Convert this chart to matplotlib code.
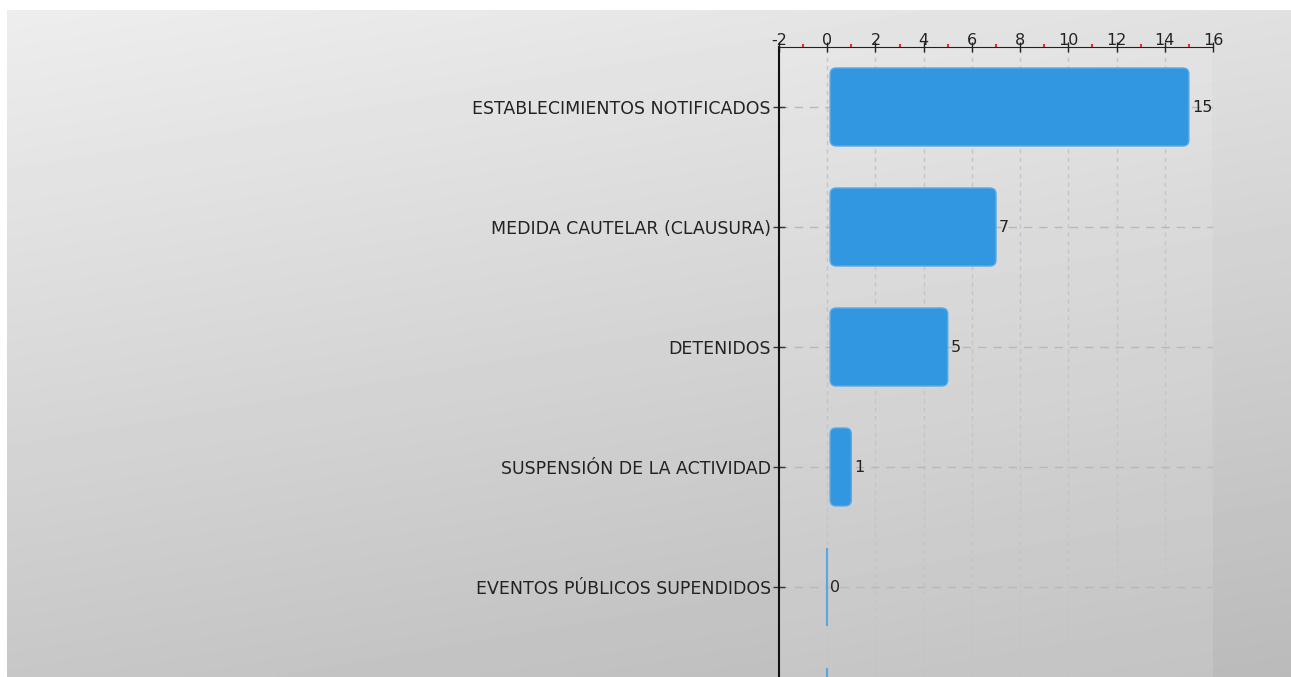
import matplotlib.pyplot as plt
import numpy as np
from matplotlib.patches import FancyBboxPatch
from matplotlib.ticker import MultipleLocator

plt.rcParams['axes.unicode_minus'] = False

# --- data ---
categories = ["ESTABLECIMIENTOS NOTIFICADOS",
              "MEDIDA CAUTELAR (CLAUSURA)",
              "DETENIDOS",
              "SUSPENSIÓN DE LA ACTIVIDAD",
              "EVENTOS PÚBLICOS SUPENDIDOS",
              ""]
values = [15, 7, 5, 1, 0, 0]

bar_color = '#3097e0'
zero_color = '#5aa7de'
text_color = '#222222'

W, H = 1291, 677
fig = plt.figure(figsize=(W/100, H/100), dpi=100)
fig.patch.set_facecolor('white')

# --- gradient background panel ---
bg = fig.add_axes([7/W, 0, 1 - 7/W, 1 - 10/H])
bg.set_axis_off()
yy, xx = np.mgrid[0:1:200j, 0:1:200j]
shade = 0.93 - 0.15*yy - 0.05*xx
bg.imshow(shade, cmap='gray', vmin=0, vmax=1, aspect='auto',
          extent=[0, 1, 0, 1], origin='upper', interpolation='bilinear')

# --- main axes (extends below the figure, as in the reference) ---
left, right, top = 779/W, 1213/W, 1 - 47/H
height = 720/H
ax = fig.add_axes([left, top - height, right - left, height])
ax.set_facecolor((1, 1, 1, 0.12))

y = np.arange(len(categories))
bars = ax.barh(y, values, height=0.65, color=bar_color)

ax.set_xlim(-2, 16)
ax.set_ylim(len(categories) - 0.5, -0.5)

# replace plain bars with rounded ones
for b, v, c in zip(bars, values, categories):
    x0, y0, w, h = b.get_x(), b.get_y(), b.get_width(), b.get_height()
    if v > 0:
        b.set_visible(False)
        r = min(0.25, (w - 0.12)/2)
        p = FancyBboxPatch((x0 + 0.12, y0), w - 0.12, h,
                           boxstyle=f"round,pad=0,rounding_size={r}",
                           mutation_aspect=0.2,
                           facecolor=bar_color, edgecolor='#5aaae6',
                           linewidth=1.0, zorder=3)
        ax.add_patch(p)
    else:
        b.set_facecolor('none')
        b.set_edgecolor(zero_color)
        b.set_linewidth(1.5)
        b.set_zorder(3)
    if c != "":
        ax.text(v + 0.12, y0 + h/2, f"{v}", va='center', ha='left',
                fontsize=11.5, color=text_color, zorder=4)

ax.set_yticks(y)
ax.set_yticklabels(categories, fontsize=12.5, color=text_color)

ax.xaxis.tick_top()
ax.xaxis.set_major_locator(MultipleLocator(2))
ax.xaxis.set_minor_locator(MultipleLocator(1))
ax.tick_params(axis='x', which='major', direction='inout', length=7,
               width=1, colors='#222222', labelsize=11.5, pad=-4.5)
ax.tick_params(axis='x', which='minor', direction='out', length=2,
               width=1.5, color='#e03030')
ax.tick_params(axis='y', direction='inout', length=8, width=1,
               color='#333333', pad=2)

ax.grid(axis='x', which='major', linestyle=(0, (3, 3)), color='#c4c4c4',
        linewidth=1, zorder=0)
ax.grid(axis='y', linestyle=(0, (6, 5)), color='#b8b8b8', linewidth=1,
        zorder=0)
ax.set_axisbelow(True)

for s in ['right', 'bottom']:
    ax.spines[s].set_visible(False)
ax.spines['top'].set_color('#222222')
ax.spines['left'].set_color('#111111')
ax.spines['left'].set_linewidth(1.5)

plt.savefig('out.png', dpi=100)
